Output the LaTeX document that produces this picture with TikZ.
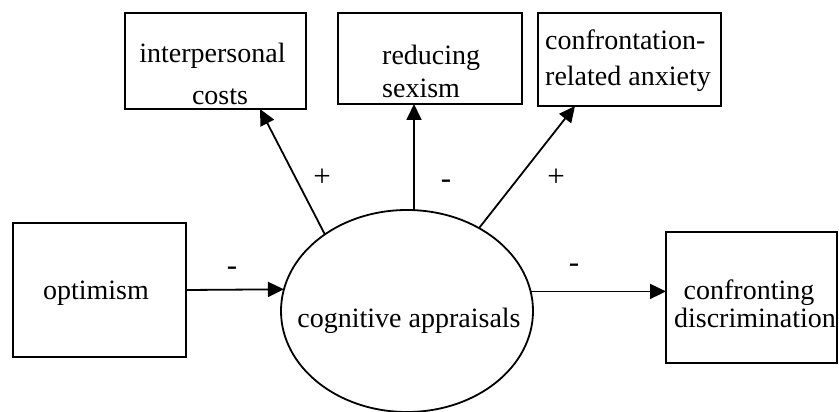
\documentclass[tikz,border=0pt]{standalone}
\usepackage{fontspec}
\setmainfont{Liberation Serif}
\usetikzlibrary{arrows.meta,shapes.geometric}
\begin{document}
\begin{tikzpicture}[x=1pt,y=-1pt,
  every node/.style={font=\fontsize{28}{34}\selectfont},
  box/.style={draw,line width=1.8pt,rectangle,inner sep=0pt,outer sep=0pt},
  oval/.style={draw,line width=1.8pt,ellipse,inner sep=0pt,outer sep=0pt,minimum width=252pt,minimum height=202pt},
  txt/.style={inner sep=0pt,anchor=base},
  txtl/.style={inner sep=0pt,anchor=base west},
  sign/.style={inner sep=0pt,anchor=base,font=\fontsize{31}{34}\selectfont},
  arr/.style={line width=1.8pt,-{Triangle[length=16pt,width=15pt]}}]
\useasboundingbox (0,0) rectangle (839,412);
% boxes
\node[box,minimum width=181pt,minimum height=96pt] (ic) at (215.5,61) {};
\node[box,minimum width=184pt,minimum height=91pt] (rs) at (430,58.5) {};
\node[box,minimum width=183pt,minimum height=93pt] (ca) at (629.5,59.5) {};
\node[box,minimum width=173pt,minimum height=134pt] (op) at (99.5,290) {};
\node[box,minimum width=171pt,minimum height=131pt] (cd) at (751.5,297.5) {};
\node[oval] (el) at (407,311) {};
% texts
\node[txt] (t1) at (212.5,63) {interpersonal};
\node[txt] (t2) at (220,105) {costs};
\node[txtl] (t3) at (382,65) {reducing};
\node[txtl] (t4) at (382,98) {sexism};
\node[txtl] (t5) at (545,50) {confrontation-};
\node[txtl] (t6) at (545,85) {related anxiety};
\node[txt] (t7) at (96,299) {optimism};
\node[txt] (t8) at (749,299) {confronting};
\node[txt] (t9) at (755,327) {discrimination};
\node[txt] (t10) at (409,327) {cognitive appraisals};
% arrows
\draw[arr] (op.east) -- (el.170);
\draw[arr] (el.9) -- (el.9 -| cd.west);
\draw[arr] (el.137) -- ([xshift=44.5pt]ic.south);
\draw[arr] ([xshift=7pt]el.north) -- ([xshift=7pt]el.north |- rs.south);
\draw[arr] (el.49.5) -- ([xshift=-54.5pt]ca.south);
% signs
\node[sign] (s1) at (322,186) {+};
\node[sign] (s2) at (446,188) {-};
\node[sign] (s3) at (556,186) {+};
\node[sign] (s4) at (232,275) {-};
\node[sign] (s5) at (574,272) {-};
\end{tikzpicture}
\end{document}
